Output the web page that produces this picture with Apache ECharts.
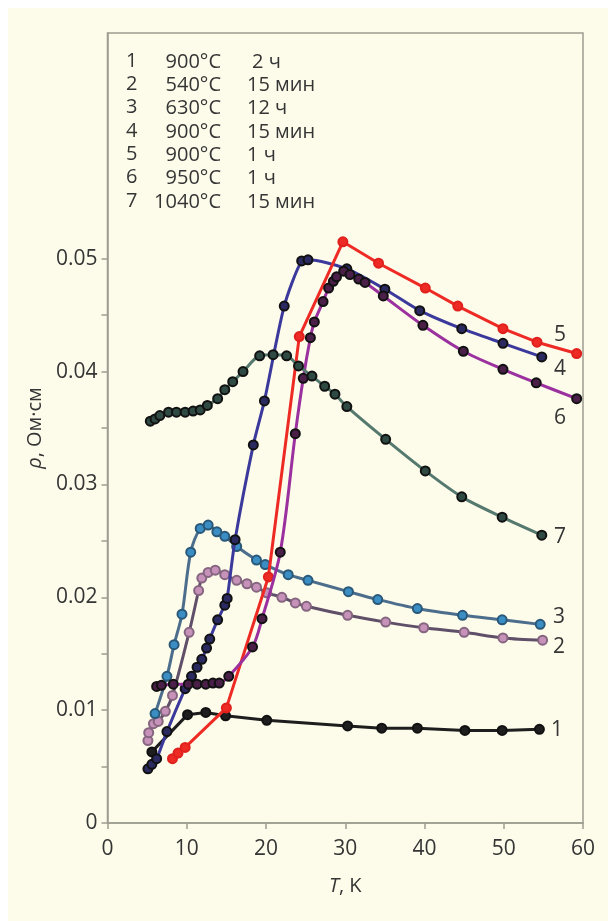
<!DOCTYPE html>
<html>
<head>
<meta charset="utf-8">
<script src="https://cdn.jsdelivr.net/npm/echarts@6/dist/echarts.min.js"></script>
<style>
  html, body { margin: 0; padding: 0; background: #ffffff; }
  #chart { width: 608px; height: 921px; background: #fdfbea; box-shadow: inset 8px 8px 0 #ffffff; }
</style>
</head>
<body>
<div id="chart"></div>
<script>
// ---- data ----
const T1 = [5.6, 10.1, 12.4, 14.9, 20.1, 30.3, 34.6, 39.1, 45.1, 49.8, 54.5];
const R1 = [0.0063, 0.0096, 0.0098, 0.0095, 0.0091, 0.0086, 0.0084, 0.0084, 0.0082, 0.0082, 0.0083];

const T2 = [5.1, 5.2, 5.8, 6.4, 7.3, 8.2, 10.3, 11.5, 11.9, 12.7, 13.6, 14.8, 16.3, 17.6, 18.8, 20.1, 22.0, 23.7, 25.1, 30.3, 35.1, 39.9, 45.0, 49.9, 54.9];
const R2 = [0.0073, 0.0080, 0.0088, 0.0090, 0.0099, 0.0113, 0.0169, 0.0206, 0.0217, 0.0222, 0.0224, 0.0220, 0.0215, 0.0212, 0.0209, 0.0204, 0.0200, 0.0195, 0.0192, 0.0184, 0.0178, 0.0173, 0.0169, 0.0164, 0.0162];

const T3 = [6.0, 7.5, 8.4, 9.4, 10.5, 11.7, 12.7, 13.8, 14.8, 16.3, 18.8, 19.9, 22.8, 25.3, 30.4, 34.1, 39.1, 44.8, 49.8, 54.6];
const R3 = [0.0097, 0.0130, 0.0158, 0.0185, 0.0240, 0.0261, 0.0264, 0.0258, 0.0254, 0.0245, 0.0233, 0.0229, 0.0220, 0.0215, 0.0205, 0.0198, 0.0190, 0.0184, 0.0180, 0.0176];

const T4 = [5.1, 5.6, 6.2, 7.5, 9.8, 10.6, 11.3, 11.9, 12.5, 12.9, 13.9, 14.8, 15.1, 16.1, 18.4, 19.8, 22.3, 24.5, 25.3, 30.2, 35.0, 39.4, 44.7, 49.9, 54.8];
const R4 = [0.0048, 0.0052, 0.0057, 0.0081, 0.0119, 0.0130, 0.0138, 0.0145, 0.0155, 0.0163, 0.0180, 0.0193, 0.0199, 0.0251, 0.0335, 0.0374, 0.0458, 0.0498, 0.0499, 0.0491, 0.0473, 0.0454, 0.0438, 0.0425, 0.0413];

const T5 = [8.2, 8.9, 9.8, 15.0, 20.3, 24.2, 29.7, 34.2, 40.1, 44.2, 49.9, 54.2, 59.2];
const R5 = [0.0057, 0.0062, 0.0067, 0.0102, 0.0218, 0.0431, 0.0515, 0.0496, 0.0474, 0.0458, 0.0438, 0.0426, 0.0416];

const T6 = [6.2, 6.8, 8.3, 10.2, 11.3, 12.4, 13.3, 14.1, 15.3, 18.3, 19.5, 21.8, 23.7, 24.7, 25.6, 26.1, 27.2, 27.9, 28.5, 28.9, 29.8, 30.6, 31.7, 32.5, 34.8, 39.8, 44.9, 49.9, 54.1, 59.2];
const R6 = [0.0121, 0.0122, 0.0123, 0.0123, 0.0123, 0.0123, 0.0124, 0.0124, 0.0130, 0.0156, 0.0181, 0.0240, 0.0345, 0.0394, 0.0430, 0.0444, 0.0462, 0.0474, 0.0480, 0.0484, 0.0489, 0.0486, 0.0482, 0.0479, 0.0467, 0.0441, 0.0418, 0.0402, 0.0390, 0.0376];

const T7 = [5.4, 6.0, 6.6, 7.7, 8.7, 9.8, 10.8, 11.7, 12.6, 13.9, 14.8, 15.8, 17.1, 19.2, 20.9, 22.6, 24.1, 25.8, 27.4, 28.7, 30.2, 35.1, 40.1, 44.7, 49.8, 54.8];
const R7 = [0.0356, 0.0358, 0.0361, 0.0364, 0.0364, 0.0364, 0.0365, 0.0366, 0.0370, 0.0376, 0.0384, 0.0391, 0.0400, 0.0414, 0.0415, 0.0414, 0.0405, 0.0396, 0.0387, 0.0380, 0.0369, 0.0340, 0.0312, 0.0289, 0.0271, 0.0255];

const curveNames = ['1', '2', '3', '4', '5', '6', '7'];
const legendTemps = ['900°C', '540°C', '630°C', '900°C', '900°C', '950°C', '1040°C'];
const legendTimes = ['2 ч', '15 мин', '12 ч', '15 мин', '1 ч', '1 ч', '15 мин'];

const xTicks = [0, 10, 20, 30, 40, 50, 60];
const yLabels = [0, 0.01, 0.02, 0.03, 0.04, 0.05];
const yTicks = [0, 0.005, 0.01, 0.015, 0.02, 0.025, 0.03, 0.035, 0.04, 0.045, 0.05];

// ---- styles ----
const FONT = '"Open Sans", "Noto Sans", sans-serif';
const TXT = '#353535';
const AX = '#9d9d90';
const styles = [
  { line: '#1e1e1e', fill: '#1e1e1e', border: '#111111', smooth: false },
  { line: '#5f4f68', fill: '#c792b9', border: '#85657f', smooth: 0.3 },
  { line: '#4c6e8c', fill: '#3a8ec4', border: '#2a5878', smooth: 0.3 },
  { line: '#3b3a9c', fill: '#2a2a60', border: '#111111', smooth: 0.25 },
  { line: '#ee2a24', fill: '#ee2a24', border: '#e0201c', smooth: false },
  { line: '#9b309f', fill: '#4a1f48', border: '#111111', smooth: 0.3 },
  { line: '#55796f', fill: '#2f4a42', border: '#111111', smooth: 0.3 }
];
const Ts = [T1, T2, T3, T4, T5, T6, T7];
const Rs = [R1, R2, R3, R4, R5, R6, R7];

const series = Ts.map((T, i) => ({
  name: curveNames[i],
  type: 'line',
  data: T.map((t, k) => [t, Rs[i][k]]),
  smooth: styles[i].smooth,
  symbol: 'circle',
  symbolSize: 9,
  lineStyle: { color: styles[i].line, width: 3 },
  itemStyle: { color: styles[i].fill, borderColor: styles[i].border, borderWidth: 2 },
  z: 2 + i,
  animation: false
}));

// legend text block and curve labels (annotations)
const graphics = [];
legendTemps.forEach((t, i) => {
  const y = 62 + i * 23.3;
  graphics.push({ type: 'text', left: 126, top: y - 11, style: { text: curveNames[i], font: '20px ' + FONT, fill: TXT } });
  graphics.push({ type: 'text', x: 221, y: y, style: { text: t, font: '20px ' + FONT, fill: TXT, textAlign: 'right', textVerticalAlign: 'middle' } });
  graphics.push({ type: 'text', x: i === 0 ? 252 : 247, y: y, style: { text: legendTimes[i], font: '20px ' + FONT, fill: TXT, textAlign: 'left', textVerticalAlign: 'middle' } });
});
const curveLabelPos = [[557, 730], [559, 647], [559, 617], [560, 369], [560, 335], [560, 418], [560, 537]];
curveLabelPos.forEach((p, i) => {
  graphics.push({ type: 'text', x: p[0], y: p[1], style: { text: curveNames[i], font: '21px ' + FONT, fill: TXT, textAlign: 'center', textVerticalAlign: 'middle' } });
});

const chart = echarts.init(document.getElementById('chart'), null, { renderer: 'canvas' });
chart.setOption({
  backgroundColor: 'transparent',
  animation: false,
  grid: { left: 107.5, right: 25, top: 33, bottom: 98, show: true, borderColor: AX, borderWidth: 1.5, backgroundColor: 'transparent' },
  xAxis: {
    type: 'value', min: xTicks[0], max: xTicks[xTicks.length - 1], interval: 10,
    name: '{i|T}, K', nameLocation: 'middle', nameGap: 53,
    nameTextStyle: { fontFamily: FONT, fontSize: 20, color: TXT, rich: { i: { fontFamily: FONT, fontSize: 20, fontStyle: 'italic', color: TXT } } },
    axisLine: { lineStyle: { color: AX, width: 1.5 } },
    axisTick: { show: true, length: 6, lineStyle: { color: AX, width: 1.5 } },
    axisLabel: { fontFamily: FONT, fontSize: 21, color: TXT, margin: 16 },
    splitLine: { show: false }
  },
  yAxis: {
    type: 'value', min: 0, max: 0.07, interval: 0.01,
    name: '{i|ρ}, Ом·см', nameLocation: 'middle', nameGap: 62, nameRotate: 90,
    nameTextStyle: { fontFamily: FONT, fontSize: 20, color: TXT, rich: { i: { fontFamily: FONT, fontSize: 20, fontStyle: 'italic', color: TXT } } },
    axisLine: { show: true, lineStyle: { color: AX, width: 1.5 } },
    axisTick: { show: true, length: 6, customValues: yTicks, lineStyle: { color: AX, width: 1.5 } },
    axisLabel: { fontFamily: FONT, fontSize: 21, color: TXT, margin: 10, customValues: yLabels,
      formatter: v => (v === 0 ? '0' : v.toFixed(2)) },
    splitLine: { show: false }
  },
  graphic: graphics,
  series: series
});
</script>
</body>
</html>
